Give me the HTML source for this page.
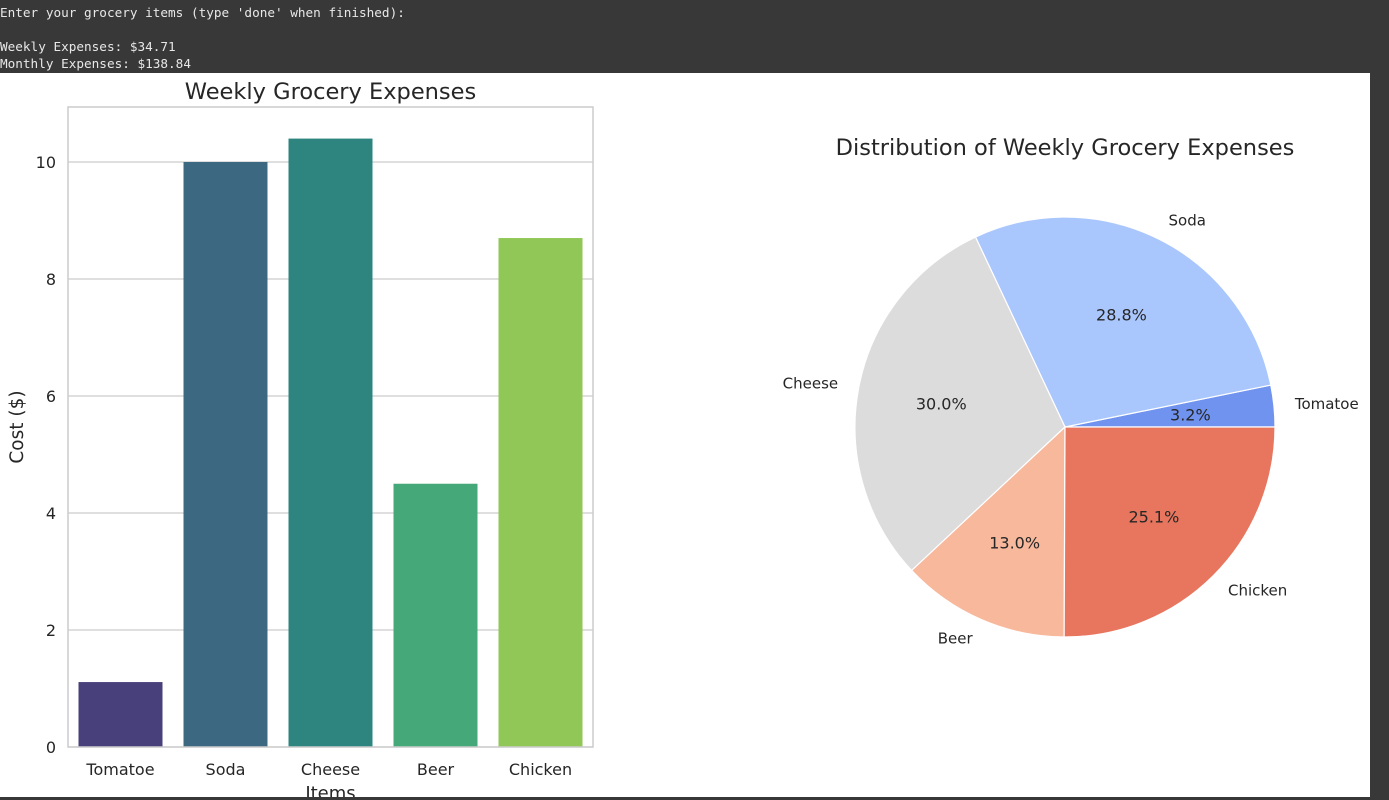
<!DOCTYPE html>
<html><head><meta charset="utf-8"><style>
body{margin:0;width:1389px;height:800px;background:#383838;overflow:hidden;font-family:"Liberation Sans","DejaVu Sans",sans-serif}
#out{position:absolute;left:0;top:4px;font-family:"DejaVu Sans Mono","Liberation Mono",monospace;font-size:12.7px;line-height:17px;color:#e8e8e8;white-space:pre}
#fig{position:absolute;left:0;top:73px}
</style></head><body>
<div id="out">Enter your grocery items (type 'done' when finished):

Weekly Expenses: $34.71
Monthly Expenses: $138.84</div>
<svg id="fig" width="1370" height="724" viewBox="0 73 1370 724" style="background:#fff;font-family:'DejaVu Sans','Liberation Sans',sans-serif">
<g id="bar"></g>
<g id="pie"></g>
</svg>
<script>
const categories=["Tomatoe","Soda","Cheese","Beer","Chicken"];
const costs=[1.11,10.0,10.4,4.5,8.7];
const yTicks=[0,2,4,6,8,10];
const barColors=["#48407a","#3d6882","#2e857f","#45a878","#90c756"];
const pieColors=["#7093f0","#aac7fd","#dcdcdc","#f7b89c","#e8765e"];
const NS="http://www.w3.org/2000/svg";
function mk(p,t,a){const e=document.createElementNS(NS,t);for(const k in a)e.setAttribute(k,a[k]);p.appendChild(e);return e;}
const bar=document.getElementById('bar');
const L=68,R=593,T=107,B=747,yMax=10.94;
const y=v=>B-(v/yMax)*(B-T);
const band=(R-L)/categories.length;
const x=i=>L+band*i;
yTicks.forEach(t=>{
 const g=mk(bar,'line',{x1:L,x2:R,y1:y(t),y2:y(t),stroke:'#cccccc','stroke-width':1.2});
 
 const tx=mk(bar,'text',{x:L-12,y:y(t)+6,'text-anchor':'end','font-size':16,fill:'#262626'});tx.textContent=t;
 
});
categories.forEach((c,i)=>{
 const r=mk(bar,'rect',{x:x(i)+band*0.1,y:y(costs[i]),width:band*0.8,height:B-y(costs[i]),fill:barColors[i]});
 
 const tx=mk(bar,'text',{x:x(i)+band/2,y:B+28,'text-anchor':'middle','font-size':16,fill:'#262626'});tx.textContent=c;
 
});
const fr=mk(bar,'rect',{x:L,y:T,width:R-L,height:B-T,fill:'none',stroke:'#cccccc','stroke-width':1.5});

let t1=mk(bar,'text',{x:(L+R)/2,y:99,'text-anchor':'middle','font-size':22.5,fill:'#262626'});t1.textContent='Weekly Grocery Expenses';

let t2=mk(bar,'text',{x:(L+R)/2,y:799,'text-anchor':'middle','font-size':18,fill:'#262626'});t2.textContent='Items';

let t3=mk(bar,'text',{x:23,y:427,'text-anchor':'middle','font-size':18.5,fill:'#262626',transform:'rotate(-90 23 427)'});t3.textContent='Cost ($)';


const pie=document.getElementById('pie');
const cx=1065,cy=427,rad=210;
const total=costs.reduce((a,b)=>a+b,0);
let ang=0;
const pt=(a,r)=>[cx+r*Math.cos(a),cy-r*Math.sin(a)];
costs.forEach((v,i)=>{
 const frac=v/total,a0=ang,a1=ang+frac*2*Math.PI;ang=a1;
 const [x0,y0]=pt(a0,rad),[x1,y1]=pt(a1,rad);
 const p=mk(pie,'path',{d:`M${cx},${cy}L${x0},${y0}A${rad},${rad} 0 ${frac>0.5?1:0} 0 ${x1},${y1}Z`,fill:pieColors[i],stroke:'#fff','stroke-width':1.2});
 
 const m=(a0+a1)/2;
 const [lx,ly]=pt(m,rad*1.1);
 const c=Math.cos(m);
 const lt=mk(pie,'text',{x:lx,y:ly+5,'text-anchor':c>0.01?'start':(c<-0.01?'end':'middle'),'font-size':15,fill:'#262626'});lt.textContent=categories[i];
 
 const [px,py]=pt(m,rad*0.6);
 const pc=mk(pie,'text',{x:px,y:py+6,'text-anchor':'middle','font-size':16,fill:'#262626'});pc.textContent=(frac*100).toFixed(1)+'%';
 
});
let t4=mk(pie,'text',{x:1065,y:155,'text-anchor':'middle','font-size':22.5,fill:'#262626'});t4.textContent='Distribution of Weekly Grocery Expenses';

</script>
</body></html>
